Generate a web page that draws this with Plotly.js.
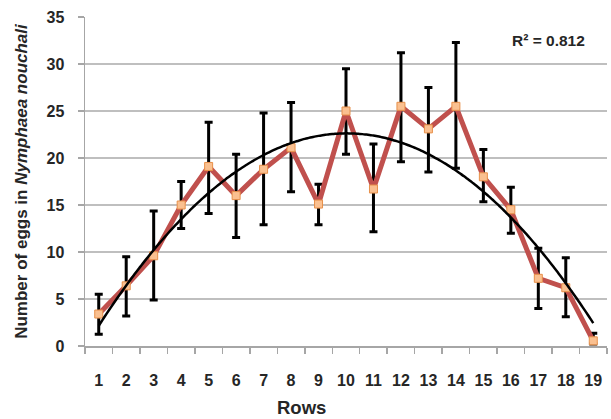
<!DOCTYPE html>
<html>
<head>
<meta charset="utf-8">
<script src="https://cdn.plot.ly/plotly-3.0.1.min.js"></script>
<style>html,body{margin:0;padding:0;background:#fff;}#chart{width:611px;height:419px;}</style>
</head>
<body>
<div id="chart"></div>
<script>
// Data
var rows = [1,2,3,4,5,6,7,8,9,10,11,12,13,14,15,16,17,18,19];
var eggs = [3.4, 6.4, 9.6, 15.0, 19.1, 16.0, 18.8, 21.1, 15.1, 25.0, 16.7, 25.5, 23.1, 25.5, 18.0, 14.5, 7.2, 6.2, 0.55];
var errPlus  = [2.1, 3.1, 4.75, 2.5, 4.7, 4.4, 6.0, 4.8, 2.1, 4.5, 4.8, 5.7, 4.4, 6.8, 2.9, 2.4, 3.2, 3.2, 0.8];
var errMinus = [2.15, 3.2, 4.7, 2.5, 5.0, 4.45, 5.9, 4.7, 2.2, 4.6, 4.55, 5.9, 4.6, 6.6, 2.65, 2.5, 3.2, 3.1, 0.35];
var yTicks = [0,5,10,15,20,25,30,35];
var r2Label = 'R\u00B2 = 0.812';

// Second-order polynomial least-squares trendline fitted to the data
function polyFit2(xs, ys) {
  var n = xs.length, S = [0,0,0,0,0], T = [0,0,0];
  for (var i = 0; i < n; i++) {
    var x = xs[i], y = ys[i], p = 1;
    for (var k = 0; k < 5; k++) { S[k] += p; if (k < 3) T[k] += p * y; p *= x; }
  }
  var A = [[S[0],S[1],S[2],T[0]],[S[1],S[2],S[3],T[1]],[S[2],S[3],S[4],T[2]]];
  for (var c = 0; c < 3; c++) {
    for (var r = c + 1; r < 3; r++) {
      var f = A[r][c] / A[c][c];
      for (var j = c; j < 4; j++) A[r][j] -= f * A[c][j];
    }
  }
  var b = [0,0,0];
  for (var c2 = 2; c2 >= 0; c2--) {
    var s = A[c2][3];
    for (var j2 = c2 + 1; j2 < 3; j2++) s -= A[c2][j2] * b[j2];
    b[c2] = s / A[c2][c2];
  }
  return b;
}
var coef = polyFit2(rows, eggs);
var trendX = [], trendY = [];
for (var t = rows[0]; t <= rows[rows.length-1] + 1e-9; t += 0.1) {
  trendX.push(t);
  trendY.push(coef[0] + coef[1]*t + coef[2]*t*t);
}

var dataTrace = {
  x: rows, y: eggs, type: 'scatter', mode: 'lines+markers',
  line: {color: '#C0504D', width: 5},
  marker: {symbol: 'square', size: 8, color: '#FAC090', line: {color: '#E8904A', width: 1}},
  error_y: {type: 'data', symmetric: false, array: errPlus, arrayminus: errMinus,
            color: '#000000', thickness: 3, width: 4},
  hoverinfo: 'skip', showlegend: false
};
var trendTrace = {
  x: trendX, y: trendY, type: 'scatter', mode: 'lines',
  line: {color: '#000000', width: 2.5, shape: 'spline'},
  hoverinfo: 'skip', showlegend: false
};

var fam = 'Liberation Sans, Arial, sans-serif';
var tickFont = {family: fam, size: 16, color: '#262626', weight: 'bold'};

var layout = {
  width: 611, height: 419,
  margin: {l: 85, r: 4, t: 17, b: 73},
  paper_bgcolor: '#ffffff', plot_bgcolor: '#ffffff',
  showlegend: false,
  xaxis: {
    range: [0.5, 19.5], tickvals: rows, ticktext: rows.map(String),
    ticks: '', showgrid: false, zeroline: false,
    showline: true, linecolor: '#A6A6A6', linewidth: 1.5,
    tickfont: tickFont, ticklabelstandoff: 19,
    minor: {tick0: 0.5, dtick: 1, ticks: 'outside', ticklen: 6, tickcolor: '#A6A6A6', tickwidth: 1.5, showgrid: false}
  },
  yaxis: {
    range: [0, 35], tickvals: yTicks, ticks: 'outside', ticklen: 6,
    tickcolor: '#A6A6A6', tickwidth: 1.5,
    showgrid: true, gridcolor: '#BFBFBF', gridwidth: 1.5, zeroline: false,
    showline: true, linecolor: '#A6A6A6', linewidth: 1.5,
    tickfont: tickFont, ticklabelstandoff: 10,
    title: {text: 'Number of eggs in <i>Nymphaea nouchali</i>',
            font: {family: fam, size: 17, color: '#262626', weight: 'bold'},
            standoff: 14}
  },
  annotations: [
    {text: r2Label, xref: 'paper', yref: 'paper', x: 0.962, y: 0.93,
     xanchor: 'right', yanchor: 'middle', showarrow: false,
     font: {family: fam, size: 15.5, color: '#262626', weight: 'bold'}},
    {text: 'Rows', xref: 'paper', yref: 'paper', x: 0.4157, y: 0, yshift: -61,
     xanchor: 'center', yanchor: 'middle', showarrow: false,
     font: {family: fam, size: 18.5, color: '#262626', weight: 'bold'}}
  ]
};

Plotly.newPlot('chart', [dataTrace, trendTrace], layout, {staticPlot: true, displayModeBar: false});
</script>
</body>
</html>
